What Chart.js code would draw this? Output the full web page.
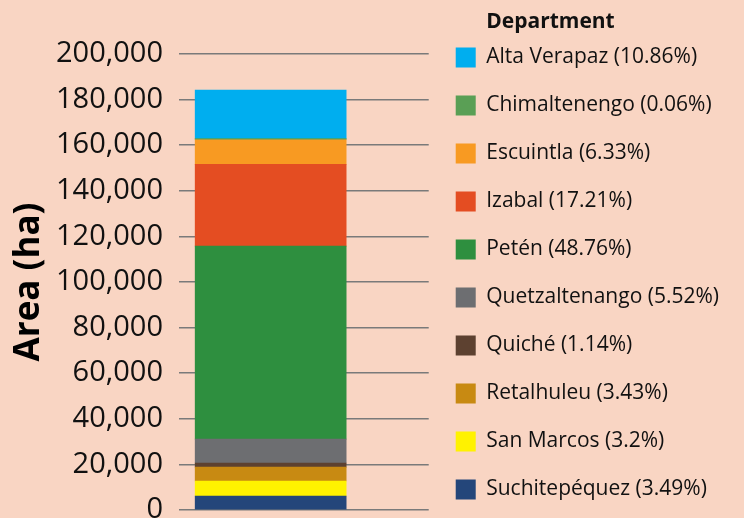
<!DOCTYPE html>
<html><head><meta charset="utf-8">
<script src="https://cdn.jsdelivr.net/npm/chart.js@4.4.1/dist/chart.umd.min.js"></script>
<style>
html,body{margin:0;padding:0;background:#f9d5c3;overflow:hidden;}
#wrap{width:744px;height:536px;}
</style></head><body>
<div id="wrap"><canvas id="c" width="744" height="536"></canvas></div>
<script>
// Stacking order: bottom of the bar first
const departments = ['Suchitepéquez','San Marcos','Retalhuleu','Quiché','Quetzaltenango','Petén','Izabal','Escuintla','Chimaltenengo','Alta Verapaz'];
const areaHa = [6100, 6600, 6100, 1800, 10500, 84600, 35900, 10800, 500, 21300];
const sharePct = ['3.49','3.2','3.43','1.14','5.52','48.76','17.21','6.33','0.06','10.86'];
const colors = ['#24467a','#fff200','#c88a12','#5d4130','#6d6e71','#2e8f3f','#e44d22','#f89a22','#5a9f55','#00aeef'];
const yTicks = [0, 20000, 40000, 60000, 80000, 100000, 120000, 140000, 160000, 180000, 200000];
const yTickLabels = ['0','20,000','40,000','60,000','80,000','100,000','120,000','140,000','160,000','180,000','200,000'];
const yTitle = 'Area (ha)';
const legendHeading = 'Department';

Chart.defaults.font.family = "'Open Sans', sans-serif";
Chart.defaults.color = '#111';

const datasets = departments.map((d, i) => ({
  label: d + ' (' + sharePct[i] + '%)',
  data: [{x: 0, y: areaHa[i]}],
  backgroundColor: colors[i],
  borderWidth: 0,
  barThickness: 151
}));

const headingPlugin = {
  id: 'legendHeading',
  afterDraw(chart) {
    const lg = chart.legend;
    const hb = lg.legendHitBoxes[0];
    const ctx = chart.ctx;
    ctx.save();
    ctx.font = "bold 21px 'Open Sans'";
    ctx.fillStyle = '#111';
    ctx.textAlign = 'left';
    ctx.textBaseline = 'middle';
    ctx.fillText(legendHeading, hb.left + 20 + 10.5, lg.top + 22);
    ctx.restore();
  }
};

new Chart(document.getElementById('c'), {
  type: 'bar',
  data: { datasets },
  plugins: [headingPlugin],
  options: {
    responsive: false,
    animation: false,
    devicePixelRatio: 1,
    layout: { padding: { left: 0, top: 0, bottom: 0, right: 15 } },
    scales: {
      x: { type: 'linear', display: false, stacked: true, offset: false, min: -0.58, max: 1 },
      y: {
        stacked: true, min: 0, max: 200000,
        afterBuildTicks(s) { s.ticks = yTicks.map(v => ({value: v})); },
        afterFit(s) { s.paddingTop = 54; s.paddingBottom = 26; },
        ticks: {
          padding: 16,
          font: { size: 29 },
          color: '#111',
          callback: (v) => yTickLabels[yTicks.indexOf(v)]
        },
        grid: { color: '#7a7a7a', lineWidth: 1.5, drawTicks: false },
        border: { display: false },
        title: {
          display: true, text: yTitle, color: '#000',
          font: { size: 35, weight: 'bold', lineHeight: 0.8 },
          padding: { top: 15, bottom: -3 }
        }
      }
    },
    plugins: {
      tooltip: { enabled: false },
      legend: {
        position: 'right',
        align: 'start',
        reverse: true,
        maxWidth: 340,
        title: { display: true, text: '', font: { size: 20, lineHeight: 1 }, padding: 0 },
        labels: {
          boxWidth: 20, boxHeight: 20, padding: 27,
          font: { size: 21 }, color: '#111'
        }
      }
    }
  }
});
</script>
</body></html>
